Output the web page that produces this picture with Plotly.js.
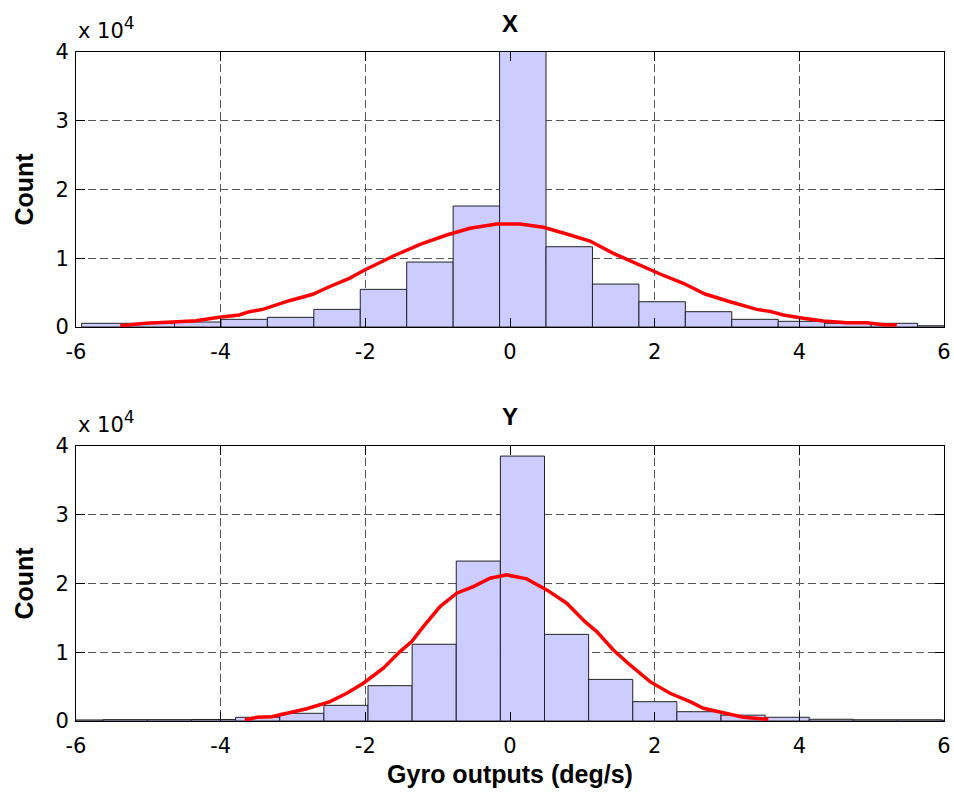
<!DOCTYPE html>
<html>
<head>
<meta charset="utf-8">
<script src="https://cdn.plot.ly/plotly-3.0.1.min.js"></script>
<style>
  html, body { margin: 0; padding: 0; background: #fff; }
  #chart { width: 954px; height: 793px; }
</style>
</head>
<body>
<div id="chart"></div>
<script>
// Gyro X axis: histogram bin centres (deg/s) and counts
const xBinCenters = [-5.601, -4.959, -4.317, -3.675, -3.033, -2.391, -1.749, -1.107, -0.465, 0.177,
                     0.819, 1.461, 2.103, 2.745, 3.387, 4.029, 4.671, 5.313, 5.955];
const xCounts = [540, 540, 730, 1120, 1410, 2570, 5480, 9450, 17600, 41500,
                 11680, 6250, 3680, 2230, 1120, 830, 540, 540, 190];
const xBinWidth = 0.642;

// Gyro X axis: fitted curve
const xFitX = [-5.388, -5.032, -4.663, -4.341, -4.019, -3.742, -3.604, -3.419, -3.051, -2.727,
               -2.498, -2.221, -2.009, -1.613, -1.244, -0.875, -0.553, -0.184, 0.139, 0.461,
               0.784, 1.106, 1.429, 1.918, 2.074, 2.396, 2.696, 3.042, 3.411, 3.595,
               3.779, 4.055, 4.332, 4.655, 4.932, 5.161, 5.347];
const xFitY = [190, 540, 730, 920, 1410, 1750, 2230, 2570, 3830, 4760,
               5860, 7080, 8290, 10330, 12030, 13380, 14360, 14980, 14980, 14500,
               13530, 12510, 10720, 8390, 7710, 6360, 4800, 3680, 2570, 2280,
               1750, 1270, 870, 630, 630, 330, 290];

// Gyro Y axis: histogram bin centres (deg/s) and counts
const yBinCenters = [-5.928, -5.318, -4.708, -4.098, -3.488, -2.878, -2.268, -1.658, -1.048, -0.438,
                     0.172, 0.782, 1.392, 2.002, 2.612, 3.222, 3.832, 4.442, 5.052, 5.662, 6.272];
const yCounts = [150, 200, 200, 220, 540, 1120, 2280, 5140, 11160, 23260,
                 38530, 12600, 6050, 2810, 1350, 850, 540, 250, 180, 180, 120];
const yBinWidth = 0.610;

// Gyro Y axis: fitted curve
const yFitX = [-3.664, -3.502, -3.294, -3.134, -2.810, -2.488, -2.257, -2.028, -1.751, -1.521,
               -1.359, -1.198, -0.967, -0.737, -0.507, -0.276, -0.045, 0.231, 0.508, 0.784,
               1.037, 1.199, 1.429, 1.659, 1.936, 2.212, 2.489, 2.673, 2.949, 3.226, 3.571];
const yFitY = [150, 540, 630, 1020, 1790, 2810, 4030, 5490, 7670, 10090,
               11540, 13730, 16640, 18590, 19550, 20770, 21250, 20670, 19070, 17130,
               14450, 13000, 10330, 8150, 5720, 4030, 2810, 1850, 1210, 540, 250];

// Axis ticks
const xTickVals = [-6, -4, -2, 0, 2, 4, 6];
const xTickText = ['-6', '-4', '-2', '0', '2', '4', '6'];
const yTickVals = [0, 10000, 20000, 30000, 40000];
const yTickText = ['0', '1', '2', '3', '4'];

const barStyle = {
  type: 'bar',
  marker: { color: '#ccccff', line: { color: '#222', width: 1 } },
  hoverinfo: 'x+y',
  showlegend: false
};
const fitStyle = {
  type: 'scatter',
  mode: 'lines',
  line: { color: '#ff0000', width: 3.5 },
  showlegend: false
};

const traces = [
  Object.assign({}, barStyle, {
    x: xBinCenters, y: xCounts,
    width: xBinCenters.map(() => xBinWidth),
    xaxis: 'x', yaxis: 'y'
  }),
  Object.assign({}, fitStyle, { x: xFitX, y: xFitY, xaxis: 'x', yaxis: 'y' }),
  Object.assign({}, barStyle, {
    x: yBinCenters, y: yCounts,
    width: yBinCenters.map(() => yBinWidth),
    xaxis: 'x2', yaxis: 'y2'
  }),
  Object.assign({}, fitStyle, { x: yFitX, y: yFitY, xaxis: 'x2', yaxis: 'y2' })
];

const FONT = 'DejaVu Sans, Arial, sans-serif';
const BOLD = 'Liberation Sans, Arial, sans-serif';

const commonAxis = {
  ticks: 'inside',
  ticklen: 9,
  tickcolor: '#000',
  showline: true,
  linecolor: '#000',
  linewidth: 1,
  mirror: 'ticks',
  showgrid: true,
  gridcolor: '#555',
  gridwidth: 1,
  griddash: '8px,4px',
  zeroline: false,
  tickfont: { size: 21, color: '#000', family: FONT },
  fixedrange: true
};

function xAxis(anchor, extra) {
  return Object.assign({}, commonAxis, {
    anchor: anchor,
    range: [-6, 6],
    tickvals: xTickVals,
    ticktext: xTickText,
    ticklabelstandoff: 6
  }, extra || {});
}

function yAxis(anchor, domain) {
  return Object.assign({}, commonAxis, {
    anchor: anchor,
    domain: domain,
    range: [0, 40000],
    tickvals: yTickVals,
    ticktext: yTickText,
    ticklabelstandoff: 2,
    title: { text: '<b>Count</b>', font: { size: 25, color: '#000', family: BOLD }, standoff: 14 }
  });
}

// Exponent label shown above each y axis
const exponentText = 'x 10<sup><span style="font-size:17px">4</span></sup>';

const layout = {
  width: 954,
  height: 793,
  margin: { l: 76, r: 10, t: 52, b: 72 },
  paper_bgcolor: '#ffffff',
  plot_bgcolor: '#ffffff',
  font: { family: FONT, color: '#000' },
  bargap: 0,
  xaxis: xAxis('y'),
  yaxis: yAxis('x', [0.5889, 1]),
  xaxis2: xAxis('y2', {
    title: { text: '<b>Gyro outputs (deg/s)</b>', font: { size: 25, color: '#000', family: BOLD }, standoff: 8 }
  }),
  yaxis2: yAxis('x2', [0, 0.4111]),
  annotations: [
    { text: '<b>X</b>', xref: 'paper', yref: 'paper', x: 0.5, y: 1.0426,
      xanchor: 'center', yanchor: 'middle', showarrow: false,
      font: { size: 24, color: '#000', family: BOLD } },
    { text: '<b>Y</b>', xref: 'paper', yref: 'paper', x: 0.5, y: 0.4552,
      xanchor: 'center', yanchor: 'middle', showarrow: false,
      font: { size: 24, color: '#000', family: BOLD } },
    { text: exponentText, xref: 'paper', yref: 'paper', x: 0, y: 1.010,
      xanchor: 'left', yanchor: 'bottom', showarrow: false,
      font: { size: 21, color: '#000', family: FONT } },
    { text: exponentText, xref: 'paper', yref: 'paper', x: 0, y: 0.421,
      xanchor: 'left', yanchor: 'bottom', showarrow: false,
      font: { size: 21, color: '#000', family: FONT } }
  ]
};

Plotly.newPlot('chart', traces, layout, { displayModeBar: false, staticPlot: true });
</script>
</body>
</html>
